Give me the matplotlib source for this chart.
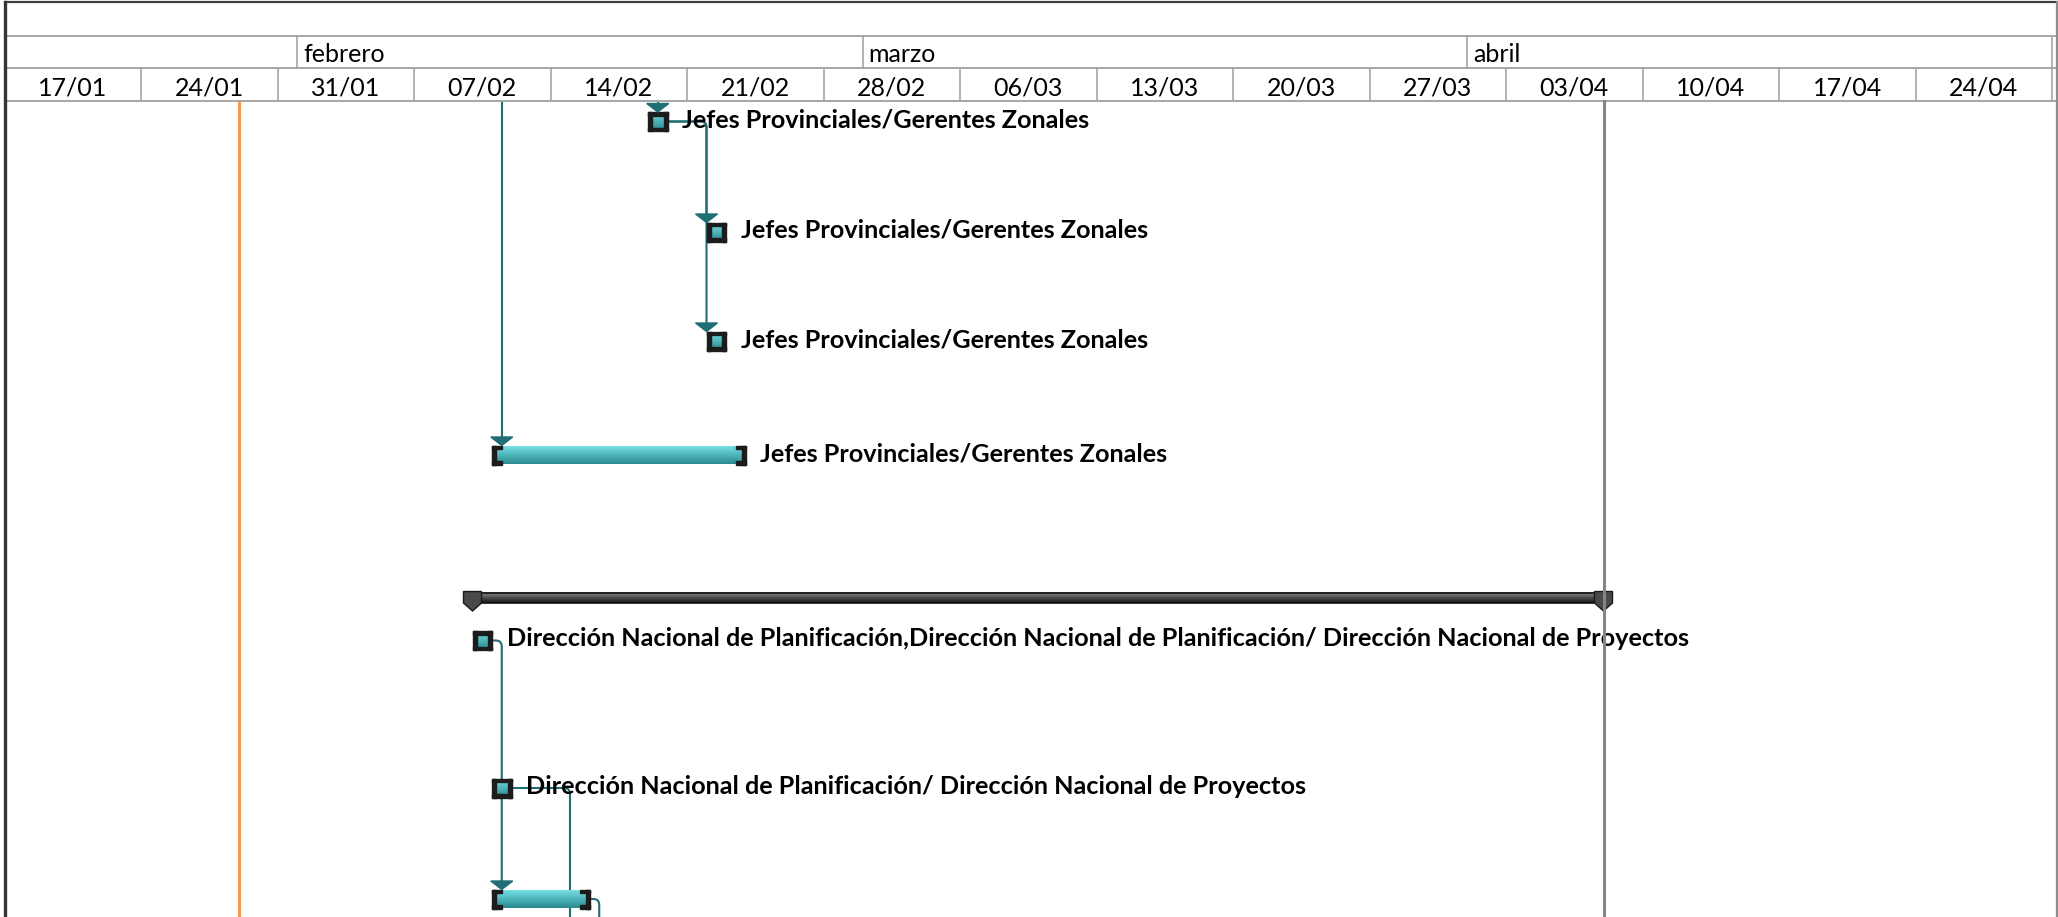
import numpy as np
import matplotlib
matplotlib.use("Agg")
import matplotlib.pyplot as plt
import matplotlib.dates as mdates
from matplotlib.patches import Rectangle, Polygon, PathPatch
from matplotlib.path import Path
from matplotlib.colors import LinearSegmentedColormap

plt.rcParams['font.family'] = ['Lato', 'DejaVu Sans']

# --- timescale ---
view_start = '2016-01-17'
view_end = '2016-05-01'
week_labels = ['17/01', '24/01', '31/01', '07/02', '14/02', '21/02', '28/02', '06/03',
               '13/03', '20/03', '27/03', '03/04', '10/04', '17/04', '24/04']
month_starts = ['2016-02-01', '2016-03-01', '2016-04-01', '2016-05-01']
month_labels = ['febrero', 'marzo', 'abril', '']
status_date = '2016-01-29'
finish_line = '2016-04-08'

# --- tasks ---
jefes = 'Jefes Provinciales/Gerentes Zonales'
task_labels = [jefes, jefes, jefes, jefes, '',
               'Dirección Nacional de Planificación,Dirección Nacional de Planificación/ Dirección Nacional de Proyectos',
               'Dirección Nacional de Planificación/ Dirección Nacional de Proyectos',
               '']
task_start = ['2016-02-19', '2016-02-22', '2016-02-22', '2016-02-11',
              '2016-02-10', '2016-02-10', '2016-02-11', '2016-02-11']
task_finish = ['2016-02-20', '2016-02-23', '2016-02-23', '2016-02-24',
               '2016-04-08', '2016-02-11', '2016-02-12', '2016-02-16']
task_kind = ['task', 'task', 'task', 'task', 'summary', 'task', 'task', 'task']

# links: predecessor row (None = off chart above), successor row (None = off chart below), drop date
link_pred = [None, 0, 0, None, 5, 6, 7]
link_succ = [0, 1, 2, 3, 7, None, None]
link_drop = ['2016-02-19 12:00', '2016-02-22 00:00', '2016-02-22 00:00', '2016-02-11 12:00',
             '2016-02-11 12:00', '2016-02-15 00:00', '2016-02-16 12:00']

# --- layout (pixels) ---
W, H = 2058, 917
row_y = [121.5, 232, 341, 455, 598, 640.5, 788, 899]
hdr_top, hdr_mid1, hdr_mid2, hdr_bot = 1.5, 36, 68, 101
x_left, x_right = 4.5, 2052.0

fig = plt.figure(figsize=(W / 100, H / 100), dpi=100)
ax = fig.add_axes([x_left / W, 0, (x_right - x_left) / W, 1])
t0, t1 = mdates.datestr2num(view_start), mdates.datestr2num(view_end)
ppd = (x_right - x_left) / (t1 - t0)


def px(p):
    return p / ppd


def vgrad(x0, x1, y0, y1, top, bot, z):
    cm = LinearSegmentedColormap.from_list('g', [top, bot])
    ax.imshow(np.linspace(0, 1, 64).reshape(-1, 1), cmap=cm, extent=(x0, x1, y1, y0),
              aspect='auto', interpolation='bilinear', zorder=z)


# --- header ---
grid = '#A6A6A6'
xr = t1 + px(W - 1.5 - x_right)
for y in (hdr_mid1, hdr_mid2, hdr_bot):
    ax.plot([t0, xr], [y, y], color=grid, lw=1.4, clip_on=False, zorder=5)
ax.plot([t0, xr], [hdr_top, hdr_top], color='#404040', lw=1.6, clip_on=False, zorder=5)
ax.plot([xr, xr], [hdr_top, H], color='#8C8C8C', lw=1.6, clip_on=False, zorder=5)
ax.plot([t0, t0], [hdr_top, H], color='#333333', lw=2.4, clip_on=False, zorder=5)

for i, lab in enumerate(week_labels):
    a = t0 + 7 * i
    ax.text(a + 3.5, 95.5, lab, ha='center', va='baseline', fontsize=18, color='black')
    ax.plot([a + 7, a + 7], [hdr_mid2, hdr_bot], color=grid, lw=1.2, clip_on=False)

for d, lab in zip(month_starts, month_labels):
    m = mdates.datestr2num(d)
    ax.plot([m, m], [hdr_mid1, hdr_mid2], color=grid, lw=1.2, clip_on=False)
    ax.text(m + px(6), 62.5, lab, ha='left', va='baseline', fontsize=18, color='black')

# --- reference lines ---
sd = mdates.datestr2num(status_date)
ax.plot([sd, sd], [hdr_bot, H], color='#F79A4E', lw=2.2, zorder=1)
fl = mdates.datestr2num(finish_line)
ax.plot([fl, fl], [hdr_bot, H], color='#848484', lw=2.2, zorder=10)

# --- links ---
teal = '#1E6E73'
bar_h = 19
r = 6
starts = [mdates.datestr2num(s) for s in task_start]
finishes = [mdates.datestr2num(s) for s in task_finish]
for p, s, d in zip(link_pred, link_succ, link_drop):
    xd = mdates.datestr2num(d)
    yend = H if s is None else row_y[s] - bar_h / 2 - 6
    if p is None:
        verts = [(xd, hdr_bot), (xd, yend)]
        codes = [Path.MOVETO, Path.LINETO]
    else:
        yp = row_y[p]
        verts = [(finishes[p], yp), (xd - px(r), yp), (xd, yp), (xd, yp + r), (xd, yend)]
        codes = [Path.MOVETO, Path.LINETO, Path.CURVE3, Path.CURVE3, Path.LINETO]
    ax.add_patch(PathPatch(Path(verts, codes), facecolor='none', edgecolor=teal, lw=1.5, zorder=2))
    if s is not None:
        tip = row_y[s] - bar_h / 2
        ax.add_patch(Polygon([[xd - px(11), tip - 8.5], [xd + px(11), tip - 8.5], [xd, tip]],
                             closed=True, color=teal, zorder=6))

# --- bars ---
dark = '#1C1C1C'
for lab, s, f, kind, yc in zip(task_labels, starts, finishes, task_kind, row_y):
    if kind == 'summary':
        vgrad(s, f, yc - 5.5, yc + 5, '#8A8A8A', '#151515', 3)
        ax.plot([s, f], [yc - 5.5, yc - 5.5], color='#111111', lw=1.2, zorder=4)
        ax.plot([s, f], [yc + 5, yc + 5], color='#111111', lw=1.2, zorder=4)
        for e in (s, f):
            ax.add_patch(Polygon([[e - px(9), yc - 6.5], [e + px(9), yc - 6.5], [e + px(9), yc + 5],
                                  [e, yc + 13], [e - px(9), yc + 5]], closed=True,
                                 facecolor='#4A4A4A', edgecolor='#1A1A1A', lw=1.0, zorder=5))
        continue
    y0, y1 = yc - bar_h / 2, yc + bar_h / 2
    vgrad(s, f, y0 + 0.5, y1 - 0.5, '#74DFE4', '#2A8A90', 3)
    cw, arm, th = px(4), px(9.5), 3.5
    for e, sg in ((s, 1), (f, -1)):
        xa = e if sg > 0 else e - cw
        ax.add_patch(Rectangle((xa, y0), cw, bar_h, color=dark, zorder=4))
        xb = e if sg > 0 else e - arm
        ax.add_patch(Rectangle((xb, y0), arm, th, color=dark, zorder=4))
        ax.add_patch(Rectangle((xb, y1 - th), arm, th, color=dark, zorder=4))
    if lab:
        ax.text(f + px(15), yc + 6, lab, ha='left', va='baseline', fontsize=18.2,
                fontweight='bold', color='black', zorder=7)

ax.set_xlim(t0, t1)
ax.set_ylim(H, 0)
ax.axis('off')
fig.savefig('out.png', dpi=100, facecolor='white')
